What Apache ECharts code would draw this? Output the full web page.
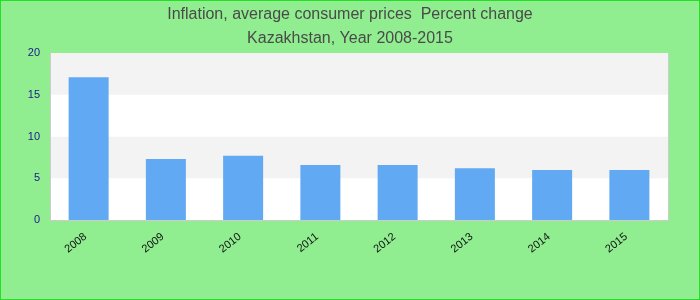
<!DOCTYPE html>
<html>
<head>
<meta charset="utf-8">
<script src="https://cdn.jsdelivr.net/npm/echarts@6/dist/echarts.min.js"></script>
<style>
html,body{margin:0;padding:0;background:#90ee90;}
#chart{width:700px;height:300px;box-sizing:border-box;border:1px solid #22e022;}
</style>
</head>
<body>
<div id="chart"></div>
<script>
const titleLines = ["Inflation, average consumer prices  Percent change", "Kazakhstan, Year 2008-2015"];
const years = ["2008", "2009", "2010", "2011", "2012", "2013", "2014", "2015"];
const inflation = [17.1, 7.3, 7.7, 6.6, 6.6, 6.2, 6.0, 6.0];
const yMin = 0, yMax = 20, yStep = 5;

const font = 'Liberation Sans, Arial, sans-serif';
const frameLine = {show: true, lineStyle: {color: '#cccccc', width: 1}};
const chart = echarts.init(document.getElementById('chart'), null, {renderer: 'canvas'});
chart.setOption({
  backgroundColor: '#90ee90',
  animation: false,
  title: {
    text: titleLines.join('\n'),
    left: 'center',
    top: -3,
    textStyle: {
      fontFamily: font,
      fontSize: 16,
      fontWeight: 'normal',
      color: '#4a4a4a',
      lineHeight: 24
    }
  },
  grid: {
    left: 49,
    right: 31,
    top: 52,
    bottom: 79,
    show: true,
    backgroundColor: '#ffffff',
    borderWidth: 0
  },
  xAxis: [{
    type: 'category',
    data: years,
    axisLine: frameLine,
    axisTick: {show: false},
    axisLabel: {
      rotate: 38,
      margin: 13,
      padding: [0, 4, 0, 0],
      fontFamily: font,
      fontSize: 11,
      color: '#111111'
    }
  }, {
    type: 'category',
    data: years,
    position: 'top',
    axisLine: frameLine,
    axisTick: {show: false},
    axisLabel: {show: false}
  }],
  yAxis: [{
    type: 'value',
    min: yMin,
    max: yMax,
    interval: yStep,
    axisLine: frameLine,
    axisTick: {show: false},
    splitLine: {show: false},
    splitArea: {show: true, areaStyle: {color: ['#ffffff', '#f3f3f3']}},
    axisLabel: {
      margin: 10,
      fontFamily: font,
      fontSize: 11,
      color: '#1a1a8a'
    }
  }, {
    type: 'value',
    min: yMin,
    max: yMax,
    interval: yStep,
    position: 'right',
    axisLine: frameLine,
    axisTick: {show: false},
    splitLine: {show: false},
    axisLabel: {show: false}
  }],
  series: [{
    type: 'bar',
    data: inflation,
    barWidth: 40,
    itemStyle: {color: '#62a9f4'}
  }]
});
</script>
</body>
</html>
